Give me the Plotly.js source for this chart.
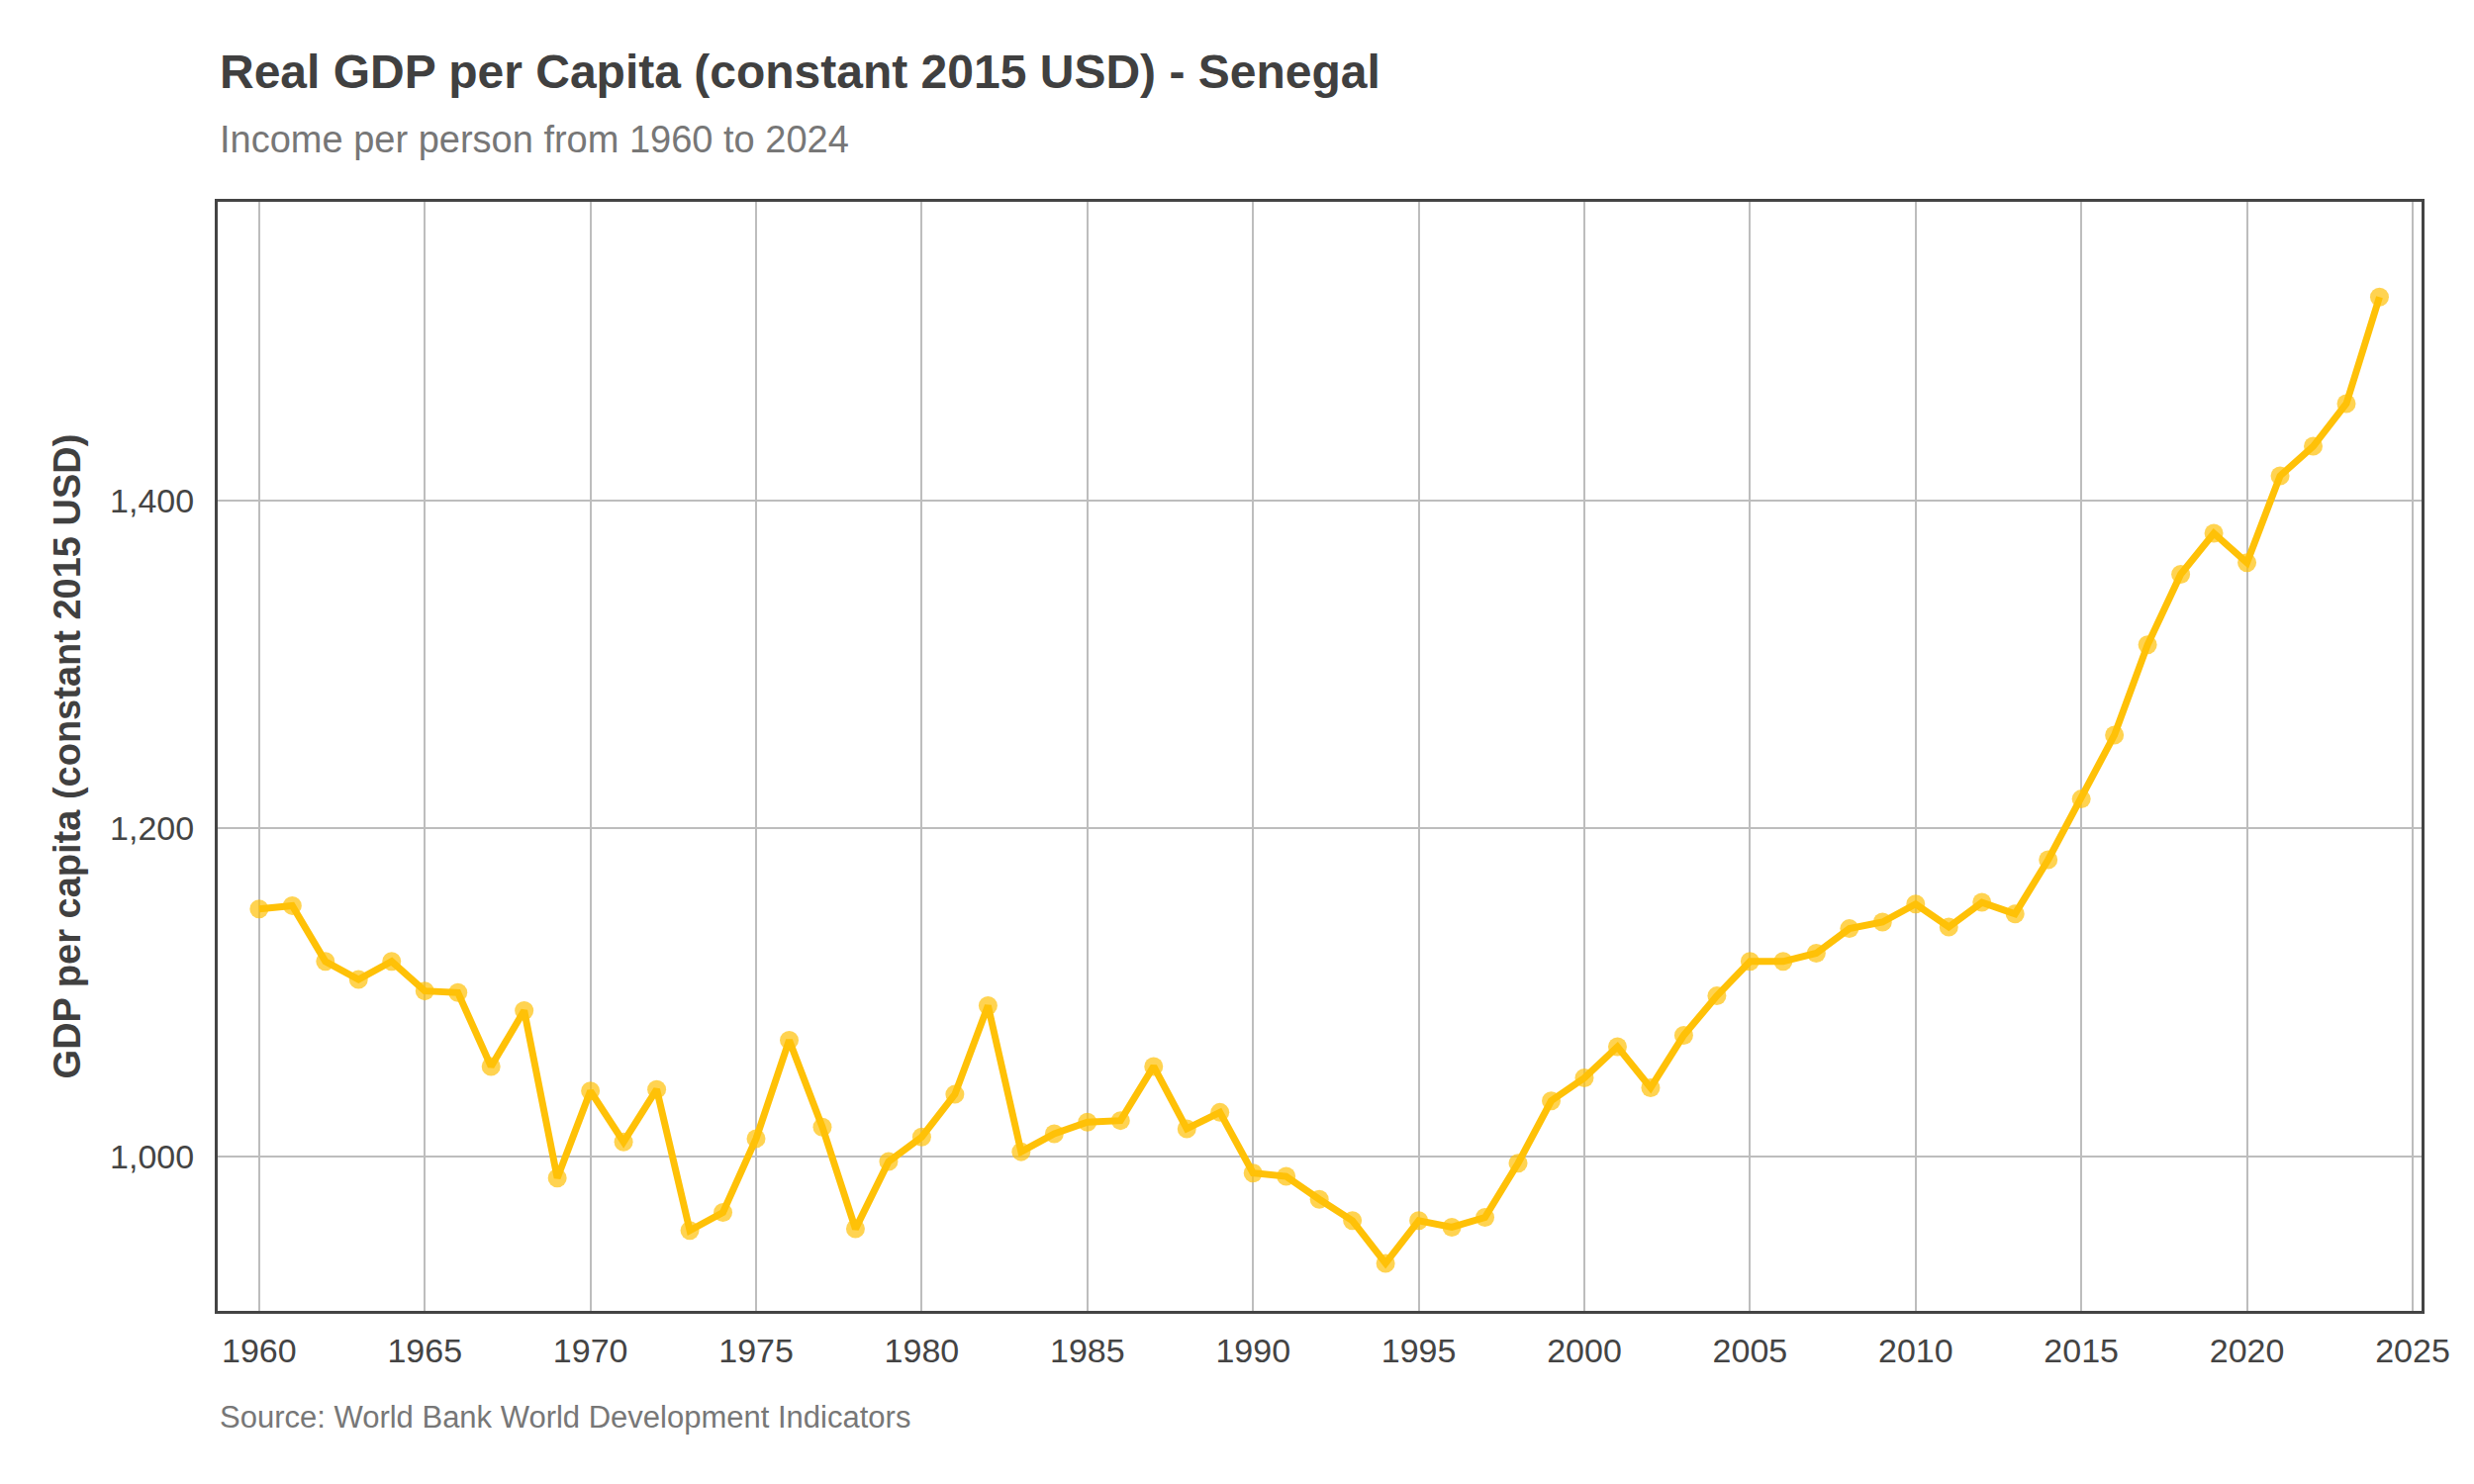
<!DOCTYPE html>
<html>
<head>
<meta charset="utf-8">
<script src="https://cdn.plot.ly/plotly-3.0.1.min.js"></script>
<style>html,body{margin:0;padding:0;background:#fff;}#chart{width:2500px;height:1500px;}</style>
</head>
<body>
<div id="chart"></div>
<script>
const years = [1960,1961,1962,1963,1964,1965,1966,1967,1968,1969,
  1970,1971,1972,1973,1974,1975,1976,1977,1978,1979,
  1980,1981,1982,1983,1984,1985,1986,1987,1988,1989,
  1990,1991,1992,1993,1994,1995,1996,1997,1998,1999,
  2000,2001,2002,2003,2004,2005,2006,2007,2008,2009,
  2010,2011,2012,2013,2014,2015,2016,2017,2018,2019,
  2020,2021,2022,2023,2024];
const gdpPerCapita = [1151,1153,1119,1108,1119,1101,1100,1055,1089,987,
  1040,1009,1041,955,966,1011,1071,1018,956,997,
  1012,1038,1092,1003,1014,1021,1022,1055,1017,1027,
  990,988,974,961,935,961,957,963,996,1034,
  1048,1067,1042,1074,1098,1119,1119,1124,1139,1143,
  1154,1140,1155,1148,1181,1218,1257,1312,1355,1380,
  1362,1415,1433,1459,1524];
const xTicks = [1960,1965,1970,1975,1980,1985,1990,1995,2000,2005,2010,2015,2020,2025];
const yTicks = [1000,1200,1400];
const yTickLabels = ["1,000","1,200","1,400"];

const amber = "#FFC107";
const FONT = "Liberation Sans, Arial, sans-serif";

const traces = [
  {x: years, y: gdpPerCapita, type: "scatter", mode: "markers",
   marker: {color: amber, size: 19, opacity: 0.7, line: {width: 0}},
   hoverinfo: "skip", showlegend: false},
  {x: years, y: gdpPerCapita, type: "scatter", mode: "lines",
   line: {color: amber, width: 7}, showlegend: false}
];

const layout = {
  width: 2500, height: 1500,
  paper_bgcolor: "#ffffff", plot_bgcolor: "#ffffff",
  margin: {l: 220, r: 53, t: 204, b: 175, pad: 0},
  font: {family: FONT, color: "#444444", size: 34},
  showlegend: false,
  xaxis: {
    range: [1958.75, 2025.27], tickmode: "array", tickvals: xTicks,
    showgrid: true, gridcolor: "#bdbdbd", gridwidth: 2,
    zeroline: false, showline: true, linecolor: "#444444", linewidth: 3, mirror: true,
    ticks: "", tickfont: {family: FONT, size: 34, color: "#444444"}, ticklabelstandoff: 8
  },
  yaxis: {
    range: [906, 1582], tickmode: "array", tickvals: yTicks, ticktext: yTickLabels,
    showgrid: true, gridcolor: "#bdbdbd", gridwidth: 2,
    zeroline: false, showline: true, linecolor: "#444444", linewidth: 3, mirror: true,
    ticks: "", tickfont: {family: FONT, size: 34, color: "#444444"}, ticklabelstandoff: 14,
    title: {text: "<b>GDP per capita (constant 2015 USD)</b>", font: {family: FONT, size: 38, color: "#404040"}, standoff: 18}
  },
  annotations: [
    {text: "<b>Real GDP per Capita (constant 2015 USD) - Senegal</b>", xref: "paper", yref: "paper",
     x: 0, y: (1325-72)/1121, xanchor: "left", yanchor: "middle", showarrow: false,
     font: {family: FONT, size: 48, color: "#404040"}},
    {text: "Income per person from 1960 to 2024", xref: "paper", yref: "paper",
     x: 0, y: (1325-141)/1121, xanchor: "left", yanchor: "middle", showarrow: false,
     font: {family: FONT, size: 38, color: "#777777"}},
    {text: "Source: World Bank World Development Indicators", xref: "paper", yref: "paper",
     x: 0, y: (1325-1432)/1121, xanchor: "left", yanchor: "middle", showarrow: false,
     font: {family: FONT, size: 31, color: "#777777"}}
  ]
};

Plotly.newPlot("chart", traces, layout, {displayModeBar: false, staticPlot: true});
</script>
</body>
</html>
